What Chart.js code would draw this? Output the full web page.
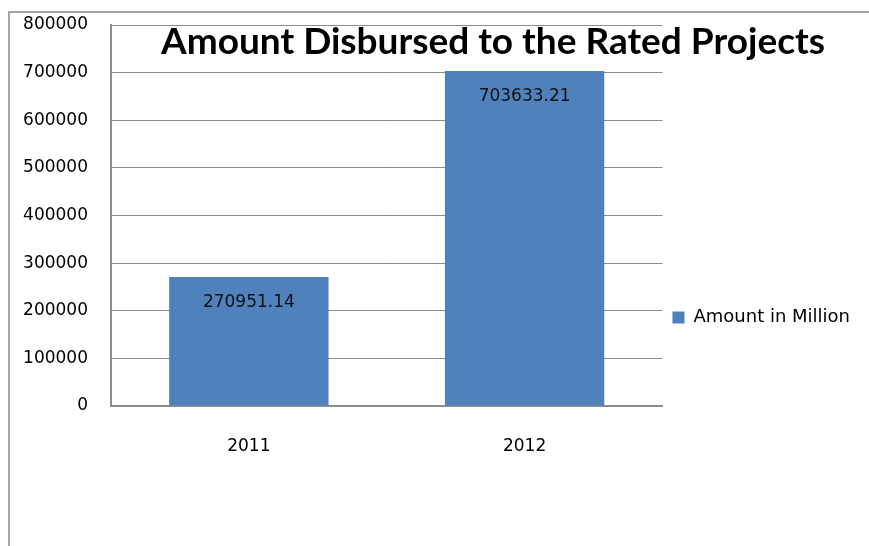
<!DOCTYPE html>
<html>
<head>
<meta charset="utf-8">
<script src="https://cdn.jsdelivr.net/npm/chart.js@4"></script>
<style>
  html, body { margin: 0; padding: 0; background: #fff; }
  #wrap { width: 869px; height: 546px; position: relative; }
</style>
</head>
<body>
<div id="wrap"><canvas id="c" width="869" height="546"></canvas></div>
<script>
const categories = ['2011', '2012'];
const seriesName = 'Amount in Million';
const amounts = [270951.14, 703633.21];
const yTicks = [0, 100000, 200000, 300000, 400000, 500000, 600000, 700000, 800000];
const chartTitle = 'Amount Disbursed to the Rated Projects';

const frame = {
  id: 'frame',
  beforeDraw(chart) {
    const ctx = chart.ctx;
    ctx.save();
    ctx.strokeStyle = '#a6a6a6';
    ctx.lineWidth = 2;
    ctx.beginPath();
    ctx.moveTo(9, 546);
    ctx.lineTo(9, 12);
    ctx.lineTo(869, 12);
    ctx.stroke();
    ctx.restore();
  }
};

const overlayTitle = {
  id: 'overlayTitle',
  afterDraw(chart) {
    const ctx = chart.ctx;
    ctx.save();
    ctx.font = 'bold 37px Lato, "Liberation Sans", sans-serif';
    ctx.fillStyle = '#000';
    ctx.textAlign = 'center';
    ctx.textBaseline = 'middle';
    ctx.fillText(chartTitle, 493, 42);
    ctx.restore();
  }
};

const barLabels = {
  id: 'barLabels',
  afterDatasetsDraw(chart) {
    const ctx = chart.ctx;
    ctx.save();
    ctx.font = '17px "DejaVu Sans", sans-serif';
    ctx.fillStyle = '#111';
    ctx.textAlign = 'center';
    ctx.textBaseline = 'middle';
    chart.getDatasetMeta(0).data.forEach((bar, i) => {
      ctx.fillText(amounts[i].toFixed(2), bar.x, bar.y + 26);
    });
    ctx.restore();
  }
};

new Chart(document.getElementById('c'), {
  type: 'bar',
  data: {
    labels: categories,
    datasets: [{
      label: seriesName,
      data: amounts,
      backgroundColor: '#4f81bd',
      borderWidth: 0,
      barPercentage: 0.578,
      categoryPercentage: 1
    }]
  },
  options: {
    responsive: false,
    animation: false,
    events: [],
    layout: { padding: { top: 25, right: 9, bottom: 0, left: 0 } },
    plugins: {
      title: { display: false },
      tooltip: { enabled: false },
      legend: {
        position: 'right',
        title: { display: true, text: '', padding: { top: 49.6, bottom: 0 }, font: { size: 12 } },
        labels: {
          boxWidth: 12,
          boxHeight: 12,
          padding: 10,
          color: '#000',
          font: { family: '"DejaVu Sans", sans-serif', size: 18 }
        }
      }
    },
    scales: {
      x: {
        afterFit(scale) { scale.height = 140; },
        grid: { display: false, drawTicks: false },
        border: { display: true, color: '#8c8c8c', width: 2 },
        ticks: { padding: 30, color: '#000', font: { family: '"DejaVu Sans", sans-serif', size: 17 } }
      },
      y: {
        min: 0,
        max: 800000,
        afterFit(scale) { scale.width = 111; scale.paddingTop = 10; scale.paddingBottom = 10; },
        afterBuildTicks(scale) { scale.ticks = yTicks.map(v => ({ value: v })); },
        grid: { color: '#8c8c8c', lineWidth: 1, drawTicks: false },
        border: { display: true, color: '#8c8c8c', width: 2 },
        ticks: {
          padding: 23,
          color: '#000',
          font: { family: '"DejaVu Sans", sans-serif', size: 17 },
          callback: (v) => String(v)
        }
      }
    }
  },
  plugins: [frame, barLabels, overlayTitle]
});
</script>
</body>
</html>
